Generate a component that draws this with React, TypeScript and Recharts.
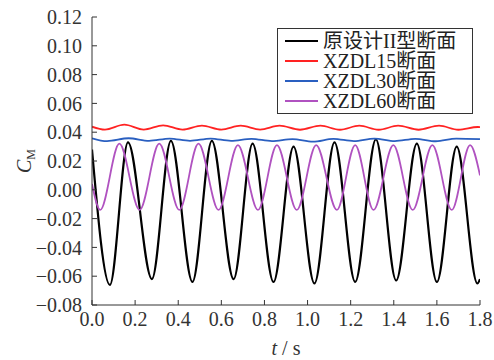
import { LineChart, Line, XAxis, YAxis } from 'recharts';

const blackT = [0, 0.083, 0.167, 0.278, 0.366, 0.466, 0.556, 0.657, 0.745, 0.842, 0.935, 1.032, 1.125, 1.221, 1.317, 1.411, 1.507, 1.6, 1.692, 1.788, 1.8];
const blackCM = [0.028, -0.066, 0.033, -0.062, 0.034, -0.064, 0.034, -0.062, 0.032, -0.064, 0.030, -0.065, 0.033, -0.064, 0.035, -0.063, 0.032, -0.064, 0.030, -0.065, -0.062];

const redT = [0, 0.06, 0.15, 0.24, 0.33, 0.42, 0.51, 0.6, 0.69, 0.78, 0.87, 0.965, 1.06, 1.15, 1.24, 1.33, 1.42, 1.515, 1.61, 1.7, 1.79, 1.8];
const redCM = [0.0438, 0.0418, 0.0452, 0.0418, 0.0448, 0.0418, 0.0446, 0.0418, 0.0445, 0.0418, 0.0445, 0.0417, 0.0445, 0.0417, 0.0445, 0.0417, 0.0445, 0.0417, 0.0445, 0.0417, 0.0436, 0.0435];

const blueT = [0, 0.07, 0.17, 0.265, 0.36, 0.455, 0.55, 0.645, 0.74, 0.835, 0.93, 1.025, 1.12, 1.215, 1.31, 1.405, 1.5, 1.595, 1.69, 1.8];
const blueCM = [0.0358, 0.0338, 0.0358, 0.034, 0.0356, 0.034, 0.0356, 0.034, 0.0354, 0.0338, 0.0352, 0.0334, 0.0354, 0.0338, 0.0356, 0.0338, 0.0354, 0.0337, 0.0356, 0.0352];

const pinkT = [0, 0.038, 0.127, 0.221, 0.312, 0.405, 0.494, 0.587, 0.677, 0.77, 0.858, 0.95, 1.04, 1.136, 1.221, 1.306, 1.398, 1.488, 1.579, 1.669, 1.754, 1.8];
const pinkCM = [0.004, -0.014, 0.032, -0.014, 0.032, -0.014, 0.032, -0.014, 0.031, -0.014, 0.031, -0.014, 0.031, -0.014, 0.031, -0.014, 0.031, -0.014, 0.031, -0.014, 0.031, 0.01];

const xTicks = [0, 0.2, 0.4, 0.6, 0.8, 1.0, 1.2, 1.4, 1.6, 1.8];
const yTicks = [-0.08, -0.06, -0.04, -0.02, 0, 0.02, 0.04, 0.06, 0.08, 0.1, 0.12];

const names = ['原设计II型断面', 'XZDL15断面', 'XZDL30断面', 'XZDL60断面'];
const colors = ['#000000', '#ff2222', '#2a5fc0', '#b052c0'];

const toRows = (ts: number[], vs: number[]) => ts.map((t, i) => ({ t, v: vs[i] }));

const series = [
  toRows(blackT, blackCM),
  toRows(redT, redCM),
  toRows(blueT, blueCM),
  toRows(pinkT, pinkCM),
];

const font = 'Liberation Serif, Noto Sans CJK SC, serif';
const textColor = '#333';
const txtStyle = { fontFamily: font, fontSize: 20, fill: textColor };

const fmtY = (v: number) => (v < 0 ? '\u2212' + Math.abs(v).toFixed(2) : v.toFixed(2));

const XTick = (p: any) => (
  <text x={p.x} y={p.y} dy="0.71em" textAnchor="middle" style={txtStyle}>
    {Number(p.payload.value).toFixed(1)}
  </text>
);

const YTick = (p: any) => (
  <text x={p.x} y={p.y} dy="0.355em" textAnchor="end" style={txtStyle}>
    {fmtY(Number(p.payload.value))}
  </text>
);

// legend drawn as plain html over the plot, so it doesn't eat plot height
const LegendBox = () => (
  <div
    style={{
      position: 'absolute',
      left: 277,
      top: 28,
      border: '1.5px solid #333',
      width: 194,
      height: 82,
      background: '#fff',
      fontFamily: font,
      fontSize: 20,
      color: '#222',
      paddingTop: 2,
      boxSizing: 'content-box',
    }}
  >
    {names.map((n, i) => (
      <div key={n} style={{ display: 'flex', alignItems: 'center', height: 20, lineHeight: '20px' }}>
        <div style={{ width: 33, height: 2, background: colors[i], marginLeft: 7, marginRight: 5 }} />
        <span style={{ whiteSpace: 'nowrap' }}>{n}</span>
      </div>
    ))}
  </div>
);

export default function App() {
  return (
    <div style={{ position: 'absolute', left: 0, top: 0, width: 494, height: 360, background: '#fff' }}>
      <LineChart width={494} height={360} margin={{ top: 17, right: 14, bottom: 15, left: 12 }}>
        <XAxis
          xAxisId="b"
          type="number"
          dataKey="t"
          domain={[0, 1.8]}
          ticks={xTicks}
          interval={0}
          allowDataOverflow
          tickSize={-5}
          tickMargin={12}
          height={40}
          stroke="#333"
          tick={<XTick />}
          label={{
            content: (p: any) => {
              const vb = p.viewBox || {};
              return (
                <text x={vb.x + vb.width / 2} y={vb.y + 50} textAnchor="middle" style={txtStyle}>
                  <tspan fontStyle="italic">t</tspan>
                  <tspan> / s</tspan>
                </text>
              );
            },
          }}
        />
        <XAxis xAxisId="top" orientation="top" type="number" dataKey="t" domain={[0, 1.8]} height={0} tick={false} tickLine={false} stroke="#333" />
        <YAxis
          yAxisId="l"
          type="number"
          domain={[-0.08, 0.12]}
          ticks={yTicks}
          interval={0}
          allowDataOverflow
          tickSize={-5}
          tickMargin={15}
          width={80}
          stroke="#333"
          tick={<YTick />}
          label={{
            content: (p: any) => {
              const vb = p.viewBox || {};
              const cx = 31;
              const cy = vb.y + vb.height / 2;
              return (
                <text x={cx} y={cy} transform={`rotate(-90 ${cx} ${cy})`} textAnchor="middle" style={txtStyle}>
                  <tspan fontStyle="italic">C</tspan>
                  <tspan fontSize={12} dy={4}>M</tspan>
                </text>
              );
            },
          }}
        />
        <YAxis yAxisId="r" orientation="right" type="number" domain={[-0.08, 0.12]} width={0} tick={false} tickLine={false} stroke="#333" />
        {series.map((d, i) => (
          <Line
            key={names[i]}
            xAxisId="b"
            yAxisId="l"
            data={d}
            dataKey="v"
            name={names[i]}
            type="monotone"
            stroke={colors[i]}
            strokeWidth={i === 0 ? 2.2 : 1.8}
            dot={false}
            isAnimationActive={false}
          />
        ))}
      </LineChart>
      <LegendBox />
    </div>
  );
}
